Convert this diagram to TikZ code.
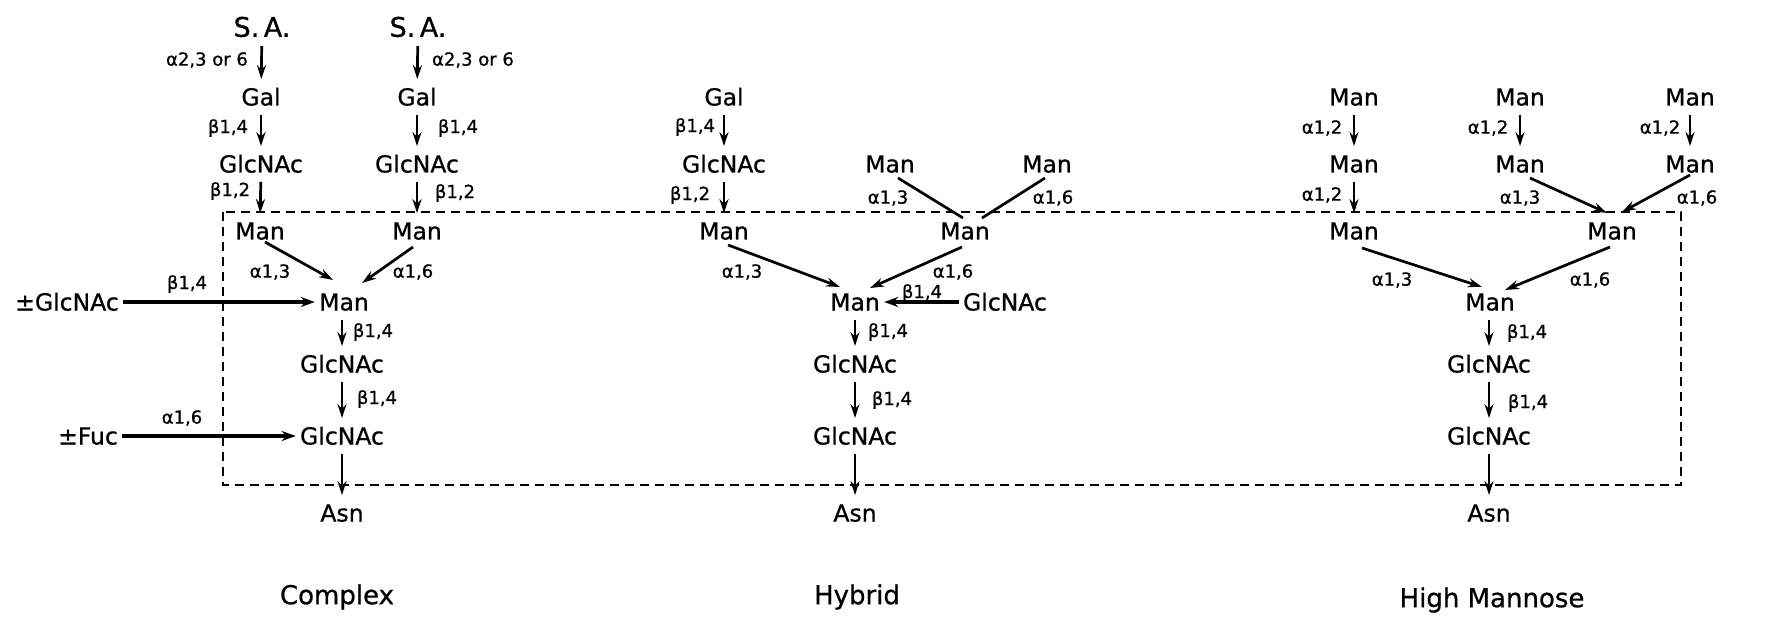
\documentclass[tikz,border=0pt]{standalone}
\usepackage{fontspec}
\setmainfont{DejaVu Sans}[FakeBold=0.8,BoldFont=DejaVu Sans,BoldFeatures={FakeBold=0.8}]
\usetikzlibrary{arrows.meta,calc}
\begin{document}
\begin{tikzpicture}[x=0.5pt,y=-0.5pt,
 sug/.style={font=\fontsize{11.75}{12}\selectfont\bfseries, inner xsep=2pt, inner ysep=4.5pt, text height=8.5pt, text depth=0pt},
 big/.style={sug, font=\fontsize{13.5}{14}\selectfont\bfseries, text height=9.8pt},
 lab/.style={font=\fontsize{9}{10}\selectfont, inner sep=0pt},
 ttl/.style={font=\fontsize{13}{14}\selectfont\bfseries, inner sep=0pt},
 arr/.style={line width=1.35pt, -{Stealth[length=7pt,width=4.5pt]}},
 harr/.style={line width=1.8pt, -{Stealth[length=7pt,width=5pt]}},
 ln/.style={line width=1.35pt},
 box/.style={line width=0.75pt, dash pattern=on 4.5pt off 3pt}]
\useasboundingbox (0,0) rectangle (1775,620);

\draw[box] (223,212) rectangle (1681,485);

% ---------------- Complex ----------------
\node[big] (saL) at (262,27) {S.\,A.};
\node[big] (saR) at (418,27) {S.\,A.};
\node[sug] (galL) at (261,97) {Gal};
\node[sug] (galR) at (417,97) {Gal};
\node[sug] (glcL) at (261,164) {GlcNAc};
\node[sug] (glcR) at (417,164) {GlcNAc};
\node[sug] (manL) at (260,231) {Man};
\node[sug] (manR) at (417,231) {Man};
\node[sug] (manC) at (344,302) {Man};
\node[sug] (glcC1) at (342,364) {GlcNAc};
\node[sug] (glcC2) at (342,436) {GlcNAc};
\node[sug] (asnC) at (342,513) {Asn};
\node[sug] (gpl) at (67,302) {±GlcNAc};
\node[sug] (fuc) at (88,436) {±Fuc};
\node[ttl] (tC) at (337,597) {Complex};

\node[lab] (c1) at (207,60) {α2,3 or 6};
\node[lab] (c2) at (473,60) {α2,3 or 6};
\node[lab] (c3) at (228,128) {β1,4};
\node[lab] (c4) at (458,128) {β1,4};
\node[lab] (c5) at (230,191) {β1,2};
\node[lab] (c6) at (455,193) {β1,2};
\node[lab] (c7) at (270,272) {α1,3};
\node[lab] (c8) at (413,272) {α1,6};
\node[lab] (c9) at (187,284) {β1,4};
\node[lab] (c10) at (373,332) {β1,4};
\node[lab] (c11) at (377,399) {β1,4};
\node[lab] (c12) at (182,418) {α1,6};

\draw[arr] (saL) -- (galL);
\draw[arr] (saR) -- (galR);
\draw[arr] (galL) -- (glcL);
\draw[arr] (galR) -- (glcR);
\draw[arr] (glcL) -- (manL);
\draw[arr] (glcR) -- (manR);
\draw[arr] ($(manL)+(5,11)$) -- ($(manC)+(-11,-22)$);
\draw[arr] ($(manR)+(-4,16)$) -- ($(manC)+(18,-19)$);
\draw[harr] (gpl.east) -- (manC.west);
\draw[arr] (manC.south -| glcC1) -- (glcC1);
\draw[arr] (glcC1) -- (glcC2);
\draw[arr] (glcC2) -- (asnC);
\draw[harr] (fuc.east) -- (glcC2.west);

% ---------------- Hybrid ----------------
\node[sug] (galH) at (724,97) {Gal};
\node[sug] (glcH) at (724,164) {GlcNAc};
\node[sug] (manHL) at (724,231) {Man};
\node[sug] (manHT1) at (890,164) {Man};
\node[sug] (manHT2) at (1047,164) {Man};
\node[sug] (manHM) at (965,231) {Man};
\node[sug] (manHC) at (855,302) {Man};
\node[sug] (glcHR) at (1005,302) {GlcNAc};
\node[sug] (glcH1) at (855,364) {GlcNAc};
\node[sug] (glcH2) at (855,436) {GlcNAc};
\node[sug] (asnH) at (855,513) {Asn};
\node[ttl] (tH) at (857,597) {Hybrid};

\node[lab] (h1) at (695,127) {β1,4};
\node[lab] (h2) at (690,195) {β1,2};
\node[lab] (h3) at (888,198) {α1,3};
\node[lab] (h4) at (1053,198) {α1,6};
\node[lab] (h5) at (742,272) {α1,3};
\node[lab] (h6) at (953,272) {α1,6};
\node[lab] (h7) at (922,293) {β1,4};
\node[lab] (h8) at (888,332) {β1,4};
\node[lab] (h9) at (892,400) {β1,4};

\draw[arr] (galH) -- (glcH);
\draw[arr] (glcH) -- (manHL);
\draw[ln] ($(manHT1)+(8,14)$) -- ($(manHM)+(-2,-13)$);
\draw[ln] ($(manHT2)+(-2,14)$) -- ($(manHM)+(17,-13)$);
\draw[arr] ($(manHL)+(4,14)$) -- ($(manHC)+(-15,-15)$);
\draw[arr] ($(manHM)+(-3,16)$) -- ($(manHC)+(15,-14)$);
\draw[harr] (glcHR.west) -- (manHC.east);
\draw[arr] (manHC) -- (glcH1);
\draw[arr] (glcH1) -- (glcH2);
\draw[arr] (glcH2) -- (asnH);

% ---------------- High Mannose ----------------
\node[sug] (hm11) at (1354,97) {Man};
\node[sug] (hm12) at (1354,164) {Man};
\node[sug] (hm13) at (1354,231) {Man};
\node[sug] (hm21) at (1520,97) {Man};
\node[sug] (hm22) at (1520,164) {Man};
\node[sug] (hm31) at (1690,97) {Man};
\node[sug] (hm32) at (1690,164) {Man};
\node[sug] (hm23) at (1612,231) {Man};
\node[sug] (hmC) at (1490,302) {Man};
\node[sug] (hmG1) at (1489,364) {GlcNAc};
\node[sug] (hmG2) at (1489,436) {GlcNAc};
\node[sug] (hmA) at (1489,513) {Asn};
\node[ttl] (tM) at (1492,600) {High Mannose};

\node[lab] (m1) at (1322,128) {α1,2};
\node[lab] (m2) at (1488,128) {α1,2};
\node[lab] (m3) at (1660,128) {α1,2};
\node[lab] (m4) at (1322,195) {α1,2};
\node[lab] (m5) at (1520,198) {α1,3};
\node[lab] (m6) at (1697,198) {α1,6};
\node[lab] (m7) at (1392,280) {α1,3};
\node[lab] (m8) at (1590,280) {α1,6};
\node[lab] (m9) at (1527,333) {β1,4};
\node[lab] (m10) at (1528,403) {β1,4};

\draw[arr] (hm11) -- (hm12);
\draw[arr] (hm12) -- (hm13);
\draw[arr] (hm21) -- (hm22);
\draw[arr] (hm31) -- (hm32);
\draw[arr] ($(hm22)+(10,14)$) -- ($(hm23)+(-5,-18)$);
\draw[arr] ($(hm32)+(0,11)$) -- ($(hm23)+(10,-19)$);
\draw[arr] ($(hm13)+(8,17)$) -- ($(hmC)+(-8,-15)$);
\draw[arr] ($(hm23)+(-2,16)$) -- ($(hmC)+(15,-12)$);
\draw[arr] (hmC.south -| hmG1) -- (hmG1);
\draw[arr] (hmG1) -- (hmG2);
\draw[arr] (hmG2) -- (hmA);
\end{tikzpicture}
\end{document}
